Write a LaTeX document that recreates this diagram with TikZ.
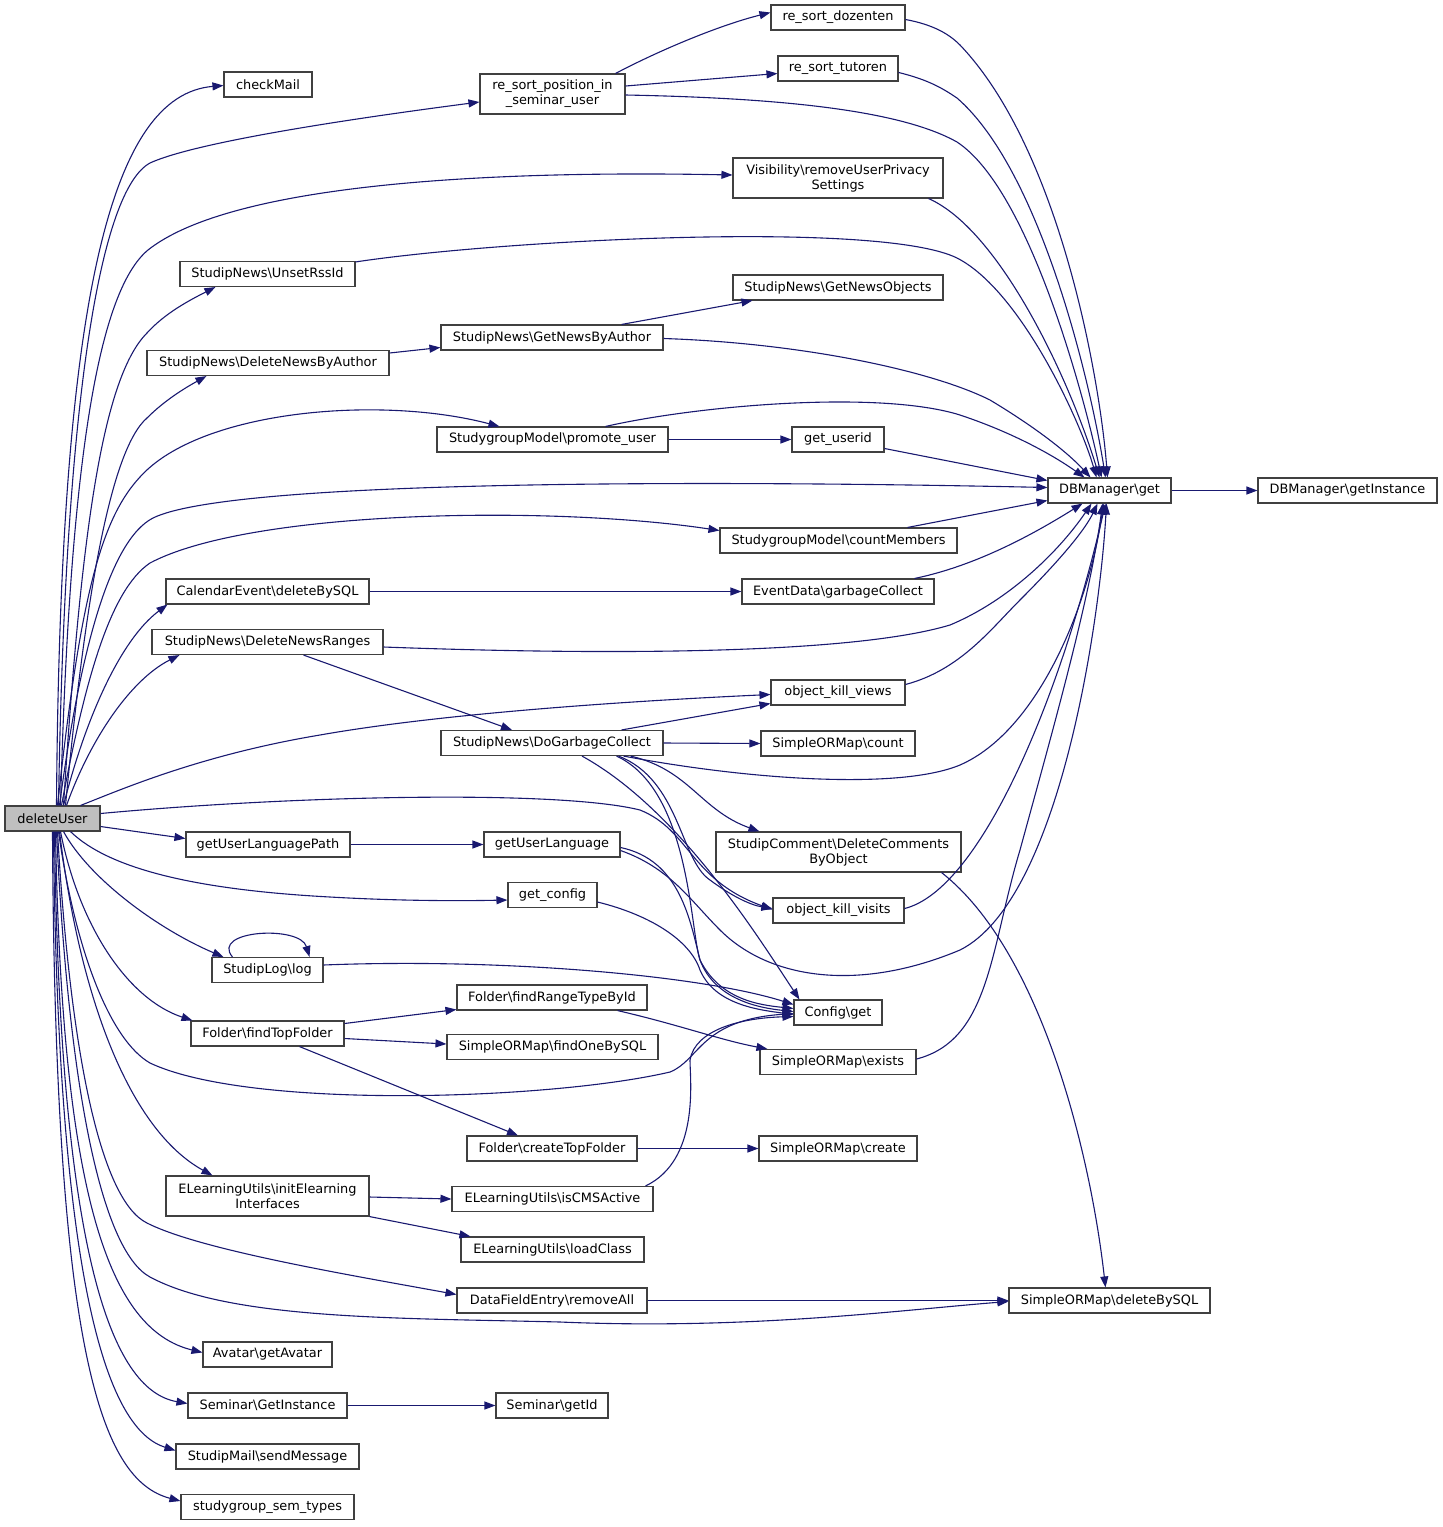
\documentclass[tikz,border=0pt]{standalone}
\usepackage{fontspec}
\setmainfont{DejaVu Sans}
\usetikzlibrary{arrows.meta,calc}
\definecolor{edgeblue}{HTML}{191970}
\definecolor{boxgray}{HTML}{404040}
\definecolor{rootfill}{HTML}{BFBFBF}
\newcommand{\dvfont}{\fontsize{12.9}{15}\selectfont}
\newcommand{\bs}{\textbackslash}
\tikzset{
  box/.style={draw=boxgray, fill=white, line width=1.1pt, inner sep=0pt,
    minimum height=25pt, minimum width=#1, font=\dvfont, align=center},
  box2/.style={box=#1, minimum height=40pt},
  conn/.style={draw=edgeblue, line width=1.1pt, -{Triangle[length=11pt,width=8pt]}}
}
\begin{document}
\begin{tikzpicture}[x=1pt,y=-1pt]
\useasboundingbox (0,0) rectangle (1443,1527);
% nodes
\node[box=95, fill=rootfill] (du) at (52.5,818.5) {deleteUser};
\node[box=88] (cm) at (268,84.5) {checkMail};
\node[box2=145] (rsp) at (552.5,94) {re\_sort\_position\_in\\\_seminar\_user};
\node[box=134] (rsd) at (838,17.5) {re\_sort\_dozenten};
\node[box=120] (rst) at (838,68.5) {re\_sort\_tutoren};
\node[box2=210] (vis) at (838,178) {Visibility\bs removeUserPrivacy\\Settings};
\node[box=175] (unset) at (267.5,274) {StudipNews\bs UnsetRssId};
\node[box=210] (gno) at (838,287.5) {StudipNews\bs GetNewsObjects};
\node[box=222] (gnba) at (552,337.5) {StudipNews\bs GetNewsByAuthor};
\node[box=242] (dnba) at (268,363) {StudipNews\bs DeleteNewsByAuthor};
\node[box=231] (promote) at (552.5,439.5) {StudygroupModel\bs promote\_user};
\node[box=92] (userid) at (838,439.5) {get\_userid};
\node[box=123] (dbget) at (1109.5,490.5) {DBManager\bs get};
\node[box=179] (dbinst) at (1347.5,490.5) {DBManager\bs getInstance};
\node[box=237] (count) at (838.5,540.5) {StudygroupModel\bs countMembers};
\node[box=203] (caldel) at (267.5,591.5) {CalendarEvent\bs deleteBySQL};
\node[box=192] (evgc) at (838,591.5) {EventData\bs garbageCollect};
\node[box=231] (dnr) at (267.5,642) {StudipNews\bs DeleteNewsRanges};
\node[box=134] (okviews) at (838,692.5) {object\_kill\_views};
\node[box=222] (dogc) at (552,743) {StudipNews\bs DoGarbageCollect};
\node[box=154] (socount) at (838,743.5) {SimpleORMap\bs count};
\node[box2=245] (comment) at (838.5,852) {StudipComment\bs DeleteComments\\ByObject};
\node[box=164] (ulp) at (268,844.5) {getUserLanguagePath};
\node[box=136] (ul) at (552,844.5) {getUserLanguage};
\node[box=89] (getconfig) at (552.5,895) {get\_config};
\node[box=131] (okvisits) at (838.5,910.5) {object\_kill\_visits};
\node[box=111] (log) at (267.5,970) {StudipLog\bs log};
\node[box=190] (frt) at (552,997.5) {Folder\bs findRangeTypeById};
\node[box=88] (cfg) at (838,1012.5) {Config\bs get};
\node[box=153] (ftf) at (267.5,1033.5) {Folder\bs findTopFolder};
\node[box=211] (fobs) at (552.5,1047) {SimpleORMap\bs findOneBySQL};
\node[box=156] (exists) at (838,1062) {SimpleORMap\bs exists};
\node[box=170] (ctf) at (552,1148.5) {Folder\bs createTopFolder};
\node[box=158] (create) at (838,1148.5) {SimpleORMap\bs create};
\node[box2=203] (init) at (267.5,1196) {ELearningUtils\bs initElearning\\Interfaces};
\node[box=201] (cms) at (552.5,1199) {ELearningUtils\bs isCMSActive};
\node[box=183] (load) at (552.5,1249.5) {ELearningUtils\bs loadClass};
\node[box=190] (dfe) at (552,1300.5) {DataFieldEntry\bs removeAll};
\node[box=201] (sodel) at (1109.5,1300.5) {SimpleORMap\bs deleteBySQL};
\node[box=129] (avatar) at (267.5,1354.5) {Avatar\bs getAvatar};
\node[box=159] (semgi) at (267.5,1405.5) {Seminar\bs GetInstance};
\node[box=112] (semid) at (552,1405.5) {Seminar\bs getId};
\node[box=183] (mail) at (267.5,1456.5) {StudipMail\bs sendMessage};
\node[box=173] (sgtypes) at (267.5,1507) {studygroup\_sem\_types};
% edges from deleteUser (upwards)
\draw[conn] ($(du.north)+(4,0)$) .. controls (60,300) and (110,95) .. ($(cm.west)+(0,1)$);
\draw[conn] ($(du.north)+(6,0)$) .. controls (65,400) and (100,190) .. (150,163) .. controls (200,140) and (380,115) .. ($(rsp.west)+(0,8)$);
\draw[conn] ($(du.north)+(8,0)$) .. controls (70,450) and (100,290) .. (148,250) .. controls (230,185) and (480,170) .. ($(vis.west)+(0,-3)$);
\draw[conn] ($(du.north)+(11,0)$) .. controls (80,550) and (100,380) .. (147,333) .. controls (165,313) and (190,300) .. ($(unset.south west)+(36,0)$);
\draw[conn] ($(du.north)+(13,0)$) .. controls (85,600) and (110,450) .. (147,418) .. controls (165,400) and (185,388) .. ($(dnba.south west)+(60,0)$);
\draw[conn] ($(du.north)+(5,0)$) .. controls (80,600) and (100,520) .. (140,477) .. controls (200,410) and (380,395) .. ($(promote.north west)+(63,0)$);
\draw[conn] ($(du.north)+(7,0)$) .. controls (80,650) and (110,540) .. (153,518) .. controls (230,480) and (700,480) .. ($(dbget.west)+(0,-3)$);
\draw[conn] ($(du.north)+(9,0)$) .. controls (85,680) and (110,590) .. (150,563) .. controls (250,510) and (550,505) .. ($(count.west)+(0,-10)$);
\draw[conn] ($(du.north)+(11,0)$) .. controls (85,720) and (120,640) .. ($(caldel.south west)+(2,0)$);
\draw[conn] ($(du.north)+(14,0)$) .. controls (90,740) and (130,680) .. ($(dnr.south west)+(28,0)$);
\draw[conn] ($(du.north)+(28,0)$) .. controls (120,790) and (200,755) .. (320,735) .. controls (450,712) and (650,700) .. ($(okviews.west)+(0,2)$);
\draw[conn] ($(du.east)+(0,-5)$) .. controls (300,795) and (560,790) .. (640,810) .. controls (690,830) and (690,880) .. ($(okvisits.west)+(0,-1)$);
\draw[conn] ($(du.east)+(0,8)$) -- ($(ulp.west)+(0,-6)$);
% edges from deleteUser (downwards)
\draw[conn] ($(du.south)+(18,0)$) .. controls (110,870) and (200,890) .. (330,897) .. controls (400,901) and (460,901) .. ($(getconfig.west)+(0,5)$);
\draw[conn] ($(du.south)+(11,0)$) .. controls (90,880) and (160,930) .. ($(log.north west)+(12,0)$);
\draw[conn] ($(du.south)+(8,0)$) .. controls (80,930) and (130,1000) .. ($(ftf.north west)+(2,0)$);
\draw[conn] ($(du.south)+(6,0)$) .. controls (75,950) and (110,1040) .. (150,1063) .. controls (250,1110) and (550,1100) .. (670,1072) .. controls (700,1060) and (700,1020) .. ($(cfg.west)+(0,1)$);
\draw[conn] ($(du.south)+(7,0)$) .. controls (80,1000) and (130,1130) .. ($(init.north west)+(47,0)$);
\draw[conn] ($(du.south)+(5,0)$) .. controls (70,1050) and (100,1200) .. (147,1223) .. controls (200,1250) and (350,1275) .. ($(dfe.west)+(0,-6)$);
\draw[conn] ($(du.south)+(4,0)$) .. controls (68,1080) and (100,1250) .. (150,1277) .. controls (230,1320) and (400,1318) .. (560,1322) .. controls (750,1330) and (900,1310) .. ($(sodel.west)+(0,1)$);
\draw[conn] ($(du.south)+(3,0)$) .. controls (62,1200) and (110,1330) .. ($(avatar.west)+(0,-2)$);
\draw[conn] ($(du.south)+(2,0)$) .. controls (60,1250) and (110,1390) .. ($(semgi.west)+(0,-2)$);
\draw[conn] ($(du.south)+(1,0)$) .. controls (58,1300) and (110,1430) .. ($(mail.west)+(0,-6)$);
\draw[conn] ($(du.south)+(0,0)$) .. controls (55,1350) and (100,1480) .. ($(sgtypes.west)+(0,-6)$);
% other edges
\draw[conn] ($(rsp.north east)+(-10,0)$) .. controls (660,50) and (720,25) .. ($(rsd.west)+(0,-5)$);
\draw[conn] ($(rsp.east)+(0,-8)$) -- ($(rst.west)+(0,5)$);
\draw[conn] ($(rsp.east)+(0,1)$) .. controls (780,98) and (900,110) .. (957,142) .. controls (1030,190) and (1085,400) .. ($(dbget.north)+(-8,0)$);
\draw[conn] ($(rsd.east)+(0,2)$) .. controls (935,25) and (950,35) .. (960,45) .. controls (1060,150) and (1100,380) .. ($(dbget.north)+(-2,0)$);
\draw[conn] ($(rst.east)+(0,4)$) .. controls (930,80) and (945,90) .. (957,98) .. controls (1040,170) and (1090,380) .. ($(dbget.north)+(-4,0)$);
\draw[conn] ($(vis.south east)+(-15,0)$) .. controls (1000,230) and (1070,380) .. ($(dbget.north)+(-10,0)$);
\draw[conn] ($(unset.north east)+(0,1)$) .. controls (500,240) and (880,220) .. (957,258) .. controls (1020,290) and (1080,420) .. ($(dbget.north)+(-13,0)$);
\draw[conn] ($(gnba.north east)+(-42,0)$) -- ($(gno.south west)+(20,0)$);
\draw[conn] ($(gnba.east)+(0,1)$) .. controls (800,343) and (930,370) .. (990,400) .. controls (1040,430) and (1070,455) .. ($(dbget.north)+(-19,0)$);
\draw[conn] ($(dnba.east)+(0,-10)$) -- ($(gnba.west)+(0,10)$);
\draw[conn] (promote.east) -- (userid.west);
\draw[conn] ($(promote.north east)+(-63,0)$) .. controls (700,405) and (880,390) .. (960,415) .. controls (1020,435) and (1060,460) .. ($(dbget.north)+(-25,0)$);
\draw[conn] ($(userid.east)+(0,9)$) -- ($(dbget.west)+(0,-10)$);
\draw[conn] (dbget.east) -- (dbinst.west);
\draw[conn] ($(count.north east)+(-50,0)$) -- ($(dbget.west)+(0,10)$);
\draw[conn] (caldel.east) -- (evgc.west);
\draw[conn] ($(evgc.north east)+(-20,0)$) .. controls (980,565) and (1040,530) .. ($(dbget.south)+(-27,0)$);
\draw[conn] ($(dnr.east)+(0,5)$) .. controls (600,655) and (850,655) .. (950,625) .. controls (1010,600) and (1060,550) .. ($(dbget.south)+(-18,0)$);
\draw[conn] ($(dnr.south)+(36,0)$) -- ($(dogc.north)+(-40,0)$);
\draw[conn] ($(okviews.east)+(0,-8)$) .. controls (960,670) and (990,630) .. (1020,600) .. controls (1060,560) and (1085,530) .. ($(dbget.south)+(-12,0)$);
\draw[conn] ($(dogc.north east)+(-42,0)$) -- ($(okviews.west)+(0,11)$);
\draw[conn] (dogc.east) -- (socount.west);
\draw[conn] ($(dogc.south east)+(-40,0)$) .. controls (750,780) and (900,790) .. (960,765) .. controls (1040,730) and (1090,600) .. ($(dbget.south)+(-6,0)$);
\draw[conn] ($(dogc.south east)+(-33,0)$) .. controls (690,770) and (700,810) .. ($(comment.north west)+(44,0)$);
\draw[conn] ($(dogc.south east)+(-45,0)$) .. controls (680,780) and (680,860) .. (710,880) .. controls (730,895) and (750,905) .. ($(okvisits.west)+(0,-2)$);
\draw[conn] ($(dogc.south east)+(-47,0)$) .. controls (690,790) and (690,930) .. (700,960) .. controls (720,1000) and (760,1005) .. ($(cfg.west)+(0,-4)$);
\draw[conn] ($(dogc.south)+(30,0)$) .. controls (680,810) and (760,940) .. ($(cfg.north west)+(6,0)$);
\draw[conn] ($(comment.south east)+(-20,0)$) .. controls (1040,950) and (1090,1150) .. ($(sodel.north)+(-4,0)$);
\draw[conn] (ulp.east) -- (ul.west);
\draw[conn] ($(ul.east)+(0,3)$) .. controls (680,860) and (690,920) .. (700,960) .. controls (715,1000) and (760,1008) .. ($(cfg.west)+(0,-1)$);
\draw[conn] ($(ul.east)+(0,6)$) .. controls (670,868) and (690,900) .. (720,930) .. controls (770,980) and (860,992) .. (960,950) .. controls (1060,900) and (1100,620) .. ($(dbget.south)+(-3,0)$);
\draw[conn] ($(getconfig.east)+(0,7)$) .. controls (650,915) and (690,940) .. (700,970) .. controls (715,1005) and (760,1010) .. ($(cfg.west)+(0,2)$);
\draw[conn] ($(okvisits.east)+(0,-2)$) .. controls (980,890) and (1060,700) .. ($(dbget.south)+(-4,0)$);
\draw[conn] ($(log.north west)+(21,0)$) .. controls (210,930) and (300,925) .. ($(log.north east)+(-14,0)$);
\draw[conn] ($(log.east)+(0,-5)$) .. controls (500,958) and (700,975) .. ($(cfg.west)+(0,-8)$);
\draw[conn] ($(ftf.east)+(0,-10)$) -- ($(frt.west)+(0,12)$);
\draw[conn] ($(ftf.east)+(0,5)$) -- ($(fobs.west)+(0,-3)$);
\draw[conn] ($(ftf.south)+(32,0)$) -- ($(ctf.north)+(-34,0)$);
\draw[conn] ($(frt.south east)+(-30,0)$) .. controls (680,1025) and (720,1040) .. ($(exists.north west)+(8,0)$);
\draw[conn] ($(exists.east)+(0,-3)$) .. controls (990,1040) and (990,950) .. (1020,850) .. controls (1050,740) and (1090,600) .. ($(dbget.south)+(-7,0)$);
\draw[conn] (ctf.east) -- (create.west);
\draw[conn] ($(init.east)+(0,1)$) -- (cms.west);
\draw[conn] (init.south east) -- ($(load.north west)+(10,0)$);
\draw[conn] ($(cms.north east)+(-8,0)$) .. controls (700,1160) and (690,1080) .. (690,1060) .. controls (695,1030) and (740,1018) .. ($(cfg.west)+(0,4)$);
\draw[conn] (dfe.east) -- (sodel.west);
\draw[conn] (semgi.east) -- (semid.west);
\end{tikzpicture}
\end{document}
